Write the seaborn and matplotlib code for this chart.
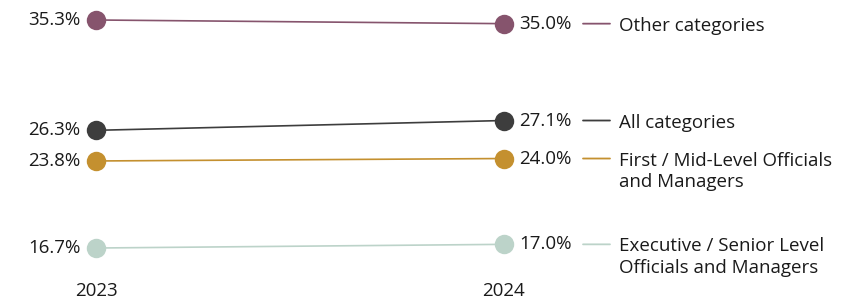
import pandas as pd
import matplotlib.pyplot as plt
import seaborn as sns

# data
years = ["2023", "2024"]
categories = [
    "Other categories",
    "All categories",
    "First / Mid-Level Officials\nand Managers",
    "Executive / Senior Level\nOfficials and Managers",
]
values_2023 = [35.3, 26.3, 23.8, 16.7]
values_2024 = [35.0, 27.1, 24.0, 17.0]
colors = ["#86546d", "#3d3d3d", "#c4902f", "#bcd3c9"]

rows = []
for cat, a, b in zip(categories, values_2023, values_2024):
    rows.append({"category": cat, "x": 0, "value": a})
    rows.append({"category": cat, "x": 1, "value": b})
data = pd.DataFrame(rows)

sns.set_style("white")
plt.rcParams["font.family"] = ["Open Sans", "DejaVu Sans"]
fs = 13.5

fig = plt.figure(figsize=(8.62, 3.03), dpi=100)
ax = fig.add_axes([0, 0, 1, 1])

sns.lineplot(data=data, x="x", y="value", hue="category", palette=colors,
             hue_order=categories, marker="o", markersize=14, markeredgewidth=0,
             linewidth=1.2, legend=False, ax=ax)

# value labels
for cat, a, b, c in zip(categories, values_2023, values_2024, colors):
    ax.annotate(f"{a:.1f}%", (0, a), xytext=(-11, 0), textcoords="offset points",
                ha="right", va="center", fontsize=fs, color="#1a1a1a")
    ax.annotate(f"{b:.1f}%", (1, b), xytext=(11, 0), textcoords="offset points",
                ha="left", va="center", fontsize=fs, color="#1a1a1a")
    # legend-like label at the right
    ax.annotate("", xy=(610 / 862, b), xytext=(583 / 862, b),
                xycoords=("axes fraction", "data"), textcoords=("axes fraction", "data"),
                arrowprops=dict(arrowstyle="-", color=c, lw=1.3, shrinkA=0, shrinkB=0))
    ax.annotate(cat, (619 / 862, b), xycoords=("axes fraction", "data"),
                xytext=(0, 5), textcoords="offset points",
                ha="left", va="top", fontsize=fs, color="#1a1a1a", linespacing=1.25)

# year labels
for i, yr in enumerate(years):
    ax.text(i, 1 - 291 / 303, yr, transform=ax.get_xaxis_transform(),
            ha="center", va="center", fontsize=fs, color="#1a1a1a")

ax.set_xlim(-96 / 408, -96 / 408 + 862 / 408)
ax.set_ylim(36.93 - 303 / 12.26, 36.93)
ax.axis("off")

fig.savefig("out.png", dpi=100)
